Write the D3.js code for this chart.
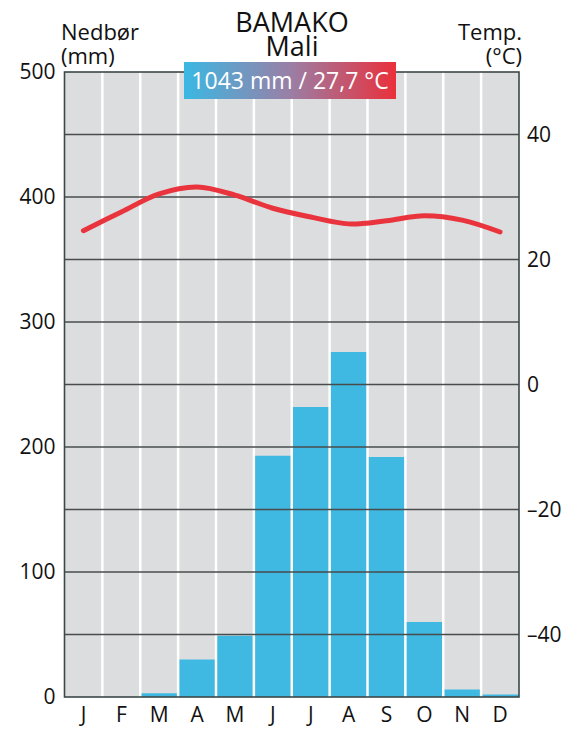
<!DOCTYPE html>
<html>
<head>
<meta charset="utf-8">
<script src="https://cdn.jsdelivr.net/npm/d3@7"></script>
<style>
  body { margin: 0; background: #fff; }
  svg text { font-family: "Open Sans", sans-serif; fill: #111; }
</style>
</head>
<body>
<div id="chart"></div>
<script>
// climate data for Bamako
var months = ["J", "F", "M", "A", "M", "J", "J", "A", "S", "O", "N", "D"];
var precip = [0, 0, 3, 30, 49, 193, 232, 276, 192, 60, 6, 2];
var temp = [24.6, 27.6, 30.5, 31.6, 30.3, 28.2, 26.8, 25.7, 26.2, 27.0, 26.3, 24.4];
var precipTicks = [0, 100, 200, 300, 400, 500];
var tempTicks = [-40, -20, 0, 20, 40];
var gridLines = [50, 100, 150, 200, 250, 300, 350, 400, 450];
var title = "BAMAKO";
var country = "Mali";
var summary = "1043 mm / 27,7 °C";

(function () {
  var W = 576, H = 731;
  var pLeft = 64.5, pRight = 519, pTop = 72, pBottom = 697;

  var svg = d3.select("#chart").append("svg")
    .attr("width", W)
    .attr("height", H);

  var x = d3.scaleBand().domain(d3.range(12)).range([pLeft, pRight]).paddingInner(0);
  var yP = d3.scaleLinear().domain([0, 500]).range([pBottom, pTop]);
  var yT = d3.scaleLinear().domain([-50, 50]).range([pBottom, pTop]);

  // background
  svg.append("rect")
    .attr("x", pLeft).attr("y", pTop)
    .attr("width", pRight - pLeft).attr("height", pBottom - pTop)
    .attr("fill", "#dcddde");

  // bars
  svg.selectAll(".bar")
    .data(precip)
    .join("rect")
    .attr("class", "bar")
    .attr("x", (d, i) => x(i))
    .attr("width", x.bandwidth())
    .attr("y", d => yP(d))
    .attr("height", d => pBottom - yP(d))
    .attr("fill", "#3fb9e1");

  // white month separators
  svg.selectAll(".sep")
    .data(d3.range(1, 12))
    .join("line")
    .attr("x1", d => x(d)).attr("x2", d => x(d))
    .attr("y1", pTop).attr("y2", pBottom)
    .attr("stroke", "#fff")
    .attr("stroke-width", 2.5);

  // horizontal gridlines
  svg.selectAll(".grid")
    .data(gridLines)
    .join("line")
    .attr("x1", pLeft).attr("x2", pRight)
    .attr("y1", d => yP(d)).attr("y2", d => yP(d))
    .attr("stroke", "#4a4c4c")
    .attr("stroke-width", 1.6);

  // frame
  svg.append("rect")
    .attr("x", pLeft).attr("y", pTop)
    .attr("width", pRight - pLeft).attr("height", pBottom - pTop)
    .attr("fill", "none")
    .attr("stroke", "#3c4848")
    .attr("stroke-width", 1.6);

  // temperature line
  var line = d3.line()
    .x((d, i) => x(i) + x.bandwidth() / 2)
    .y(d => yT(d))
    .curve(d3.curveCatmullRom);

  svg.append("path")
    .datum(temp)
    .attr("d", line)
    .attr("fill", "none")
    .attr("stroke", "#e9343d")
    .attr("stroke-width", 5)
    .attr("stroke-linecap", "round");

  // axes
  var axL = svg.append("g")
    .attr("transform", "translate(" + pLeft + ",0)")
    .call(d3.axisLeft(yP).tickValues(precipTicks).tickSize(0).tickPadding(9));
  axL.select(".domain").remove();
  axL.selectAll("text").style("font-size", "21px").attr("fill", "#111");

  var axR = svg.append("g")
    .attr("transform", "translate(" + pRight + ",0)")
    .call(d3.axisRight(yT).tickValues(tempTicks).tickSize(0).tickPadding(8)
      .tickFormat(d => d < 0 ? "\u2013" + Math.abs(d) : d));
  axR.select(".domain").remove();
  axR.selectAll("text").style("font-size", "21px").attr("fill", "#111");

  var axB = svg.append("g")
    .attr("transform", "translate(0," + pBottom + ")")
    .call(d3.axisBottom(x).tickSize(0).tickPadding(10).tickFormat(i => months[i]));
  axB.select(".domain").remove();
  axB.selectAll("text").style("font-size", "21px").attr("fill", "#111");

  // titles
  svg.append("text").attr("x", 292).attr("y", 32)
    .attr("text-anchor", "middle").style("font-size", "27px").text(title);
  svg.append("text").attr("x", 292).attr("y", 56)
    .attr("text-anchor", "middle").style("font-size", "27px").text(country);

  svg.append("text").attr("x", 61).attr("y", 40).style("font-size", "22px").text("Nedbør");
  svg.append("text").attr("x", 61).attr("y", 64).style("font-size", "22px").text("(mm)");
  svg.append("text").attr("x", 522).attr("y", 40).attr("text-anchor", "end").style("font-size", "22px").text("Temp.");
  svg.append("text").attr("x", 522).attr("y", 64).attr("text-anchor", "end").style("font-size", "22px").text("(°C)");

  // summary badge
  var grad = svg.append("defs").append("linearGradient")
    .attr("id", "badgeGrad").attr("x1", "0%").attr("x2", "100%");
  grad.append("stop").attr("offset", "0%").attr("stop-color", "#3ab8e3");
  grad.append("stop").attr("offset", "50%").attr("stop-color", "#9a7fa6");
  grad.append("stop").attr("offset", "100%").attr("stop-color", "#ea303b");

  svg.append("rect")
    .attr("x", 184).attr("y", 62)
    .attr("width", 212).attr("height", 37)
    .attr("fill", "url(#badgeGrad)");
  svg.append("text")
    .attr("x", 290).attr("y", 88.5)
    .attr("text-anchor", "middle")
    .style("font-size", "23px")
    .style("fill", "#fff")
    .text(summary);
})();
</script>
</body>
</html>
